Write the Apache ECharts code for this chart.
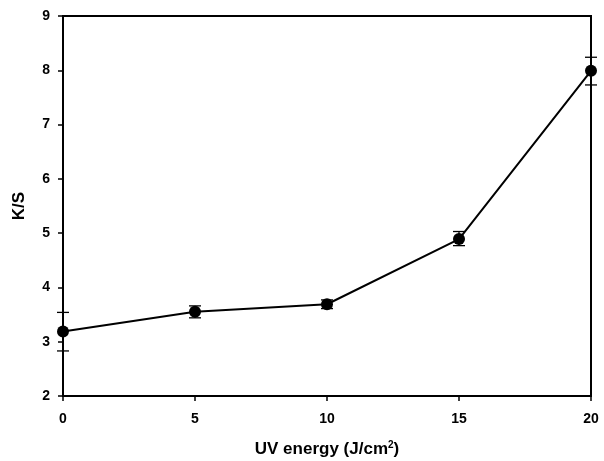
<!DOCTYPE html>
<html><head><meta charset="utf-8">
<script src="https://cdn.jsdelivr.net/npm/echarts@6/dist/echarts.min.js"></script>
<style>html,body{margin:0;padding:0;background:#fff}#c{width:604px;height:461px}</style>
</head><body><div id="c"></div>
<script>
var uvEnergy = [0, 5, 10, 15, 20];
var ksValues = [3.19, 3.55, 3.69, 4.89, 7.99];
var errLow = [2.83, 3.44, 3.61, 4.77, 7.73];
var errHigh = [3.54, 3.66, 3.77, 5.03, 8.24];
var xTicks = [0, 5, 10, 15, 20];
var yTicks = [2, 3, 4, 5, 6, 7, 8, 9];

var font = '"Liberation Sans", Arial, sans-serif';
var chart = echarts.init(document.getElementById('c'), null, {renderer: 'canvas'});
var lineData = uvEnergy.map(function (x, i) { return [x, ksValues[i]]; });
var errData = uvEnergy.map(function (x, i) { return [x, errLow[i], errHigh[i]]; });

chart.setOption({
  animation: false,
  backgroundColor: '#fff',
  grid: {left: 63, right: 13, top: 16, bottom: 65, show: true, borderColor: '#000', borderWidth: 2,
    containLabel: false, outerBoundsMode: 'none'},
  xAxis: {
    type: 'value', min: xTicks[0], max: xTicks[xTicks.length - 1], interval: 5,
    name: 'UV energy (J/cm{sup|2})', nameLocation: 'middle', nameGap: 44,
    nameTextStyle: {fontFamily: font, fontWeight: 'bold', fontSize: 17, color: '#000',
      rich: {sup: {fontFamily: font, fontWeight: 'bold', fontSize: 10, color: '#000', verticalAlign: 'top', padding: [0,0,9,0]}}},
    axisLine: {show: true, lineStyle: {color: '#000', width: 2}},
    axisTick: {show: true, inside: false, length: 5, lineStyle: {color: '#000', width: 1.5}},
    axisLabel: {fontFamily: font, fontWeight: 'bold', fontSize: 14, color: '#000', margin: 16},
    splitLine: {show: false}
  },
  yAxis: {
    type: 'value', min: yTicks[0], max: yTicks[yTicks.length - 1], interval: 1,
    name: 'K/S', nameLocation: 'middle', nameGap: 35, nameRotate: 90,
    nameTextStyle: {fontFamily: font, fontWeight: 'bold', fontSize: 17, color: '#000'},
    axisLine: {show: true, lineStyle: {color: '#000', width: 2}},
    axisTick: {show: true, inside: false, length: 5, lineStyle: {color: '#000', width: 1.5}},
    axisLabel: {fontFamily: font, fontWeight: 'bold', fontSize: 14, color: '#000', margin: 13},
    splitLine: {show: false}
  },
  series: [
    {
      type: 'custom', data: errData, z: 3,
      renderItem: function (params, api) {
        var x = api.value(0);
        var lo = api.coord([x, api.value(1)]);
        var hi = api.coord([x, api.value(2)]);
        var hw = 6;
        var st = {stroke: '#000', lineWidth: 1.3};
        return {type: 'group', children: [
          {type: 'line', shape: {x1: lo[0], y1: lo[1], x2: hi[0], y2: hi[1]}, style: st},
          {type: 'line', shape: {x1: lo[0]-hw, y1: lo[1], x2: lo[0]+hw, y2: lo[1]}, style: st},
          {type: 'line', shape: {x1: hi[0]-hw, y1: hi[1], x2: hi[0]+hw, y2: hi[1]}, style: st}
        ]};
      }
    },
    {
      type: 'line', data: lineData, z: 4,
      symbol: 'circle', symbolSize: 12,
      itemStyle: {color: '#000'},
      lineStyle: {color: '#000', width: 2}
    }
  ]
});
</script></body></html>
